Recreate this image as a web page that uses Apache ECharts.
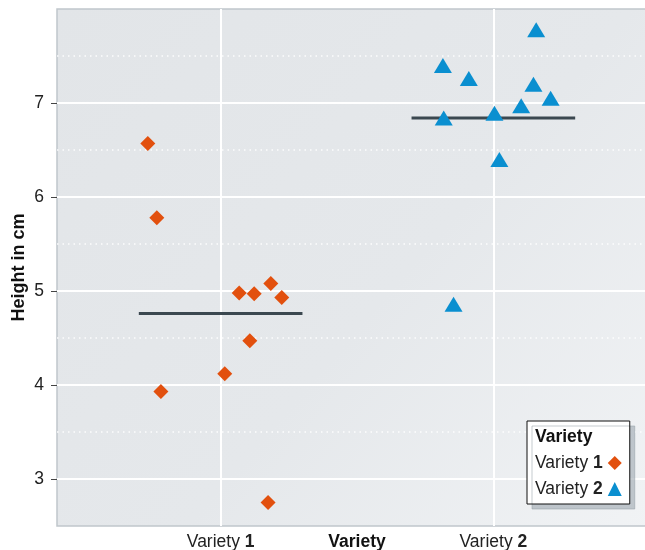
<!DOCTYPE html>
<html><head><meta charset="utf-8">
<script src="https://cdn.jsdelivr.net/npm/echarts@6/dist/echarts.min.js"></script>
<style>html,body{margin:0;padding:0;background:#fff}#c{width:645px;height:550px}</style>
</head><body><div id="c"></div>
<script>
var categories = ['Variety 1', 'Variety 2'];
var categoryPos = [1, 2];
var v1x = [0.733, 0.766, 0.781, 1.015, 1.068, 1.123, 1.184, 1.224, 1.107, 1.174];
var v1y = [6.57, 5.78, 3.93, 4.12, 4.98, 4.97, 5.08, 4.93, 4.47, 2.75];
var v2x = [2.157, 1.815, 1.910, 2.147, 2.210, 2.102, 2.004, 1.818, 2.022, 1.854];
var v2y = [7.78, 7.40, 7.26, 7.20, 7.05, 6.97, 6.89, 6.84, 6.40, 4.86];
var means = [4.76, 6.84];
var yTicks = [3, 4, 5, 6, 7];
var yMinor = [3.5, 4.5, 5.5, 6.5, 7.5];

var FONT = '"Liberation Sans", Arial, Helvetica, sans-serif';
var zip = function (a, b) { return a.map(function (x, i) { return [x, b[i]]; }); };
var rich = {
  n: { fontFamily: FONT, fontSize: 17.5, color: '#222' },
  b: { fontFamily: FONT, fontSize: 17.5, color: '#222', fontWeight: 'bold' }
};
var fmt = function (name) {
  var i = name.lastIndexOf(' ');
  return '{n|' + name.slice(0, i + 1) + '}{b|' + name.slice(i + 1) + '}';
};

var gridLines = [];
yTicks.forEach(function (v) { gridLines.push({ yAxis: v, lineStyle: { color: '#fff', width: 2, type: 'solid' } }); });
yMinor.forEach(function (v) { gridLines.push({ yAxis: v, lineStyle: { color: 'rgba(255,255,255,0.9)', width: 1.5, type: [1.5, 4] } }); });
categoryPos.forEach(function (v) { gridLines.push({ xAxis: v, lineStyle: { color: '#fff', width: 2, type: 'solid' } }); });

var chart = echarts.init(document.getElementById('c'));
chart.setOption({
  animation: false,
  textStyle: { fontFamily: FONT },
  title: { text: 'Variety', left: 535, top: 428, padding: 0,
    textStyle: { fontFamily: FONT, fontSize: 17.5, fontWeight: 'bold', color: '#111' } },
  legend: {
    data: categories, orient: 'vertical', left: 527, top: 421, align: 'right',
    padding: [33, 8, 6, 8], itemGap: 8, itemWidth: 14, itemHeight: 14,
    backgroundColor: '#fff', borderColor: '#111', borderWidth: 1,
    shadowColor: 'rgba(150,160,170,0.55)', shadowOffsetX: 5, shadowOffsetY: 5, shadowBlur: 0,
    formatter: fmt, textStyle: { rich: rich }
  },
  grid: {
    left: 57, top: 9, width: 600, height: 517, show: true,
    outerBoundsMode: 'none', containLabel: false,
    backgroundColor: { type: 'linear', x: 0, y: 0, x2: 1, y2: 1,
      colorStops: [{ offset: 0, color: '#e2e5e8' }, { offset: 0.55, color: '#e5e8eb' }, { offset: 1, color: '#f1f3f5' }] },
    borderColor: '#c0c6cb', borderWidth: 1.5
  },
  xAxis: {
    type: 'value', min: 0.4, max: 2.6,
    name: 'Variety', nameLocation: 'middle', nameGap: 7, nameMoveOverlap: false,
    nameTextStyle: { fontFamily: FONT, fontSize: 17.5, fontWeight: 'bold', color: '#111', verticalAlign: 'top' },
    axisLine: { show: false }, axisTick: { show: false, customValues: categoryPos },
    splitLine: { show: false },
    axisLabel: { customValues: categoryPos, margin: 7,
      formatter: function (v) { return fmt(categories[categoryPos.indexOf(v)]); }, rich: rich }
  },
  yAxis: {
    type: 'value', min: 2.5, max: 8,
    name: 'Height in cm', nameLocation: 'middle', nameGap: 29, nameMoveOverlap: false,
    nameTextStyle: { fontFamily: FONT, fontSize: 18, fontWeight: 'bold', color: '#111' },
    axisLine: { show: false },
    axisTick: { show: true, length: 6, customValues: yTicks, lineStyle: { color: '#444', width: 1 } },
    splitLine: { show: false },
    axisLabel: { customValues: yTicks, margin: 13, fontFamily: FONT, fontSize: 17.5, color: '#222' }
  },
  series: [
    { type: 'line', name: 'gridlines', data: [], z: 1, silent: true,
      markLine: { silent: true, symbol: 'none', label: { show: false }, z: 1, animation: false, data: gridLines } },
    { type: 'line', name: 'mean1', data: [[categoryPos[0] - 0.3, means[0]], [categoryPos[0] + 0.3, means[0]]],
      showSymbol: false, symbol: 'none', z: 2, silent: true, lineStyle: { color: '#3b4850', width: 3 } },
    { type: 'line', name: 'mean2', data: [[categoryPos[1] - 0.3, means[1]], [categoryPos[1] + 0.3, means[1]]],
      showSymbol: false, symbol: 'none', z: 2, silent: true, lineStyle: { color: '#3b4850', width: 3 } },
    { type: 'scatter', name: categories[0], data: zip(v1x, v1y), symbol: 'diamond', symbolSize: 15, z: 3,
      itemStyle: { color: '#e2500e', opacity: 1 } },
    { type: 'scatter', name: categories[1], data: zip(v2x, v2y), symbol: 'triangle', symbolSize: [18, 15], z: 3,
      itemStyle: { color: '#0a8fd0', opacity: 1 } }
  ]
});
</script></body></html>
